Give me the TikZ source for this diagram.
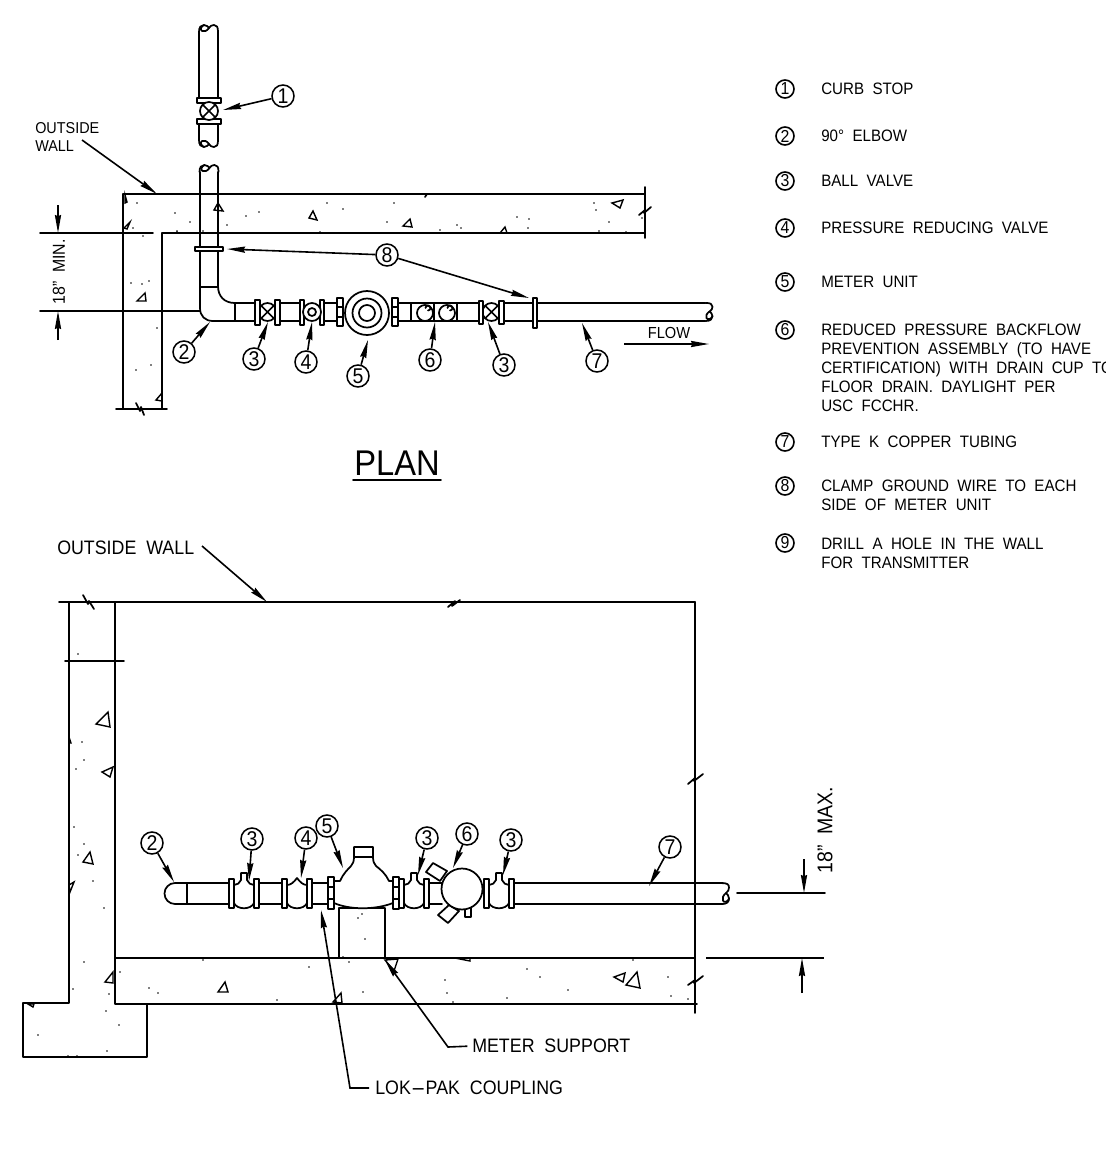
\documentclass[tikz,border=0pt]{standalone}
\usepackage{fontspec}
\setmainfont[WordSpace=2,FakeStretch=0.915]{Liberation Sans}
\usetikzlibrary{arrows.meta,calc}
\tikzset{
  line/.style={line width=1.3pt,black,line cap=round,line join=round},
  heavy/.style={line width=1.7pt,black},
  arr/.style={line width=1.2pt,black,-{Stealth[length=13.5pt,width=4.6pt,inset=1pt]}},
  num/.style={circle,draw,line width=1.15pt,inner sep=0pt,minimum size=16.5pt,font=\fontsize{16}{16}\selectfont},
  key/.style={circle,draw,line width=1.2pt,inner sep=0pt,minimum size=13.5pt,font=\fontsize{13}{13}\selectfont},
  txt/.style={anchor=west,inner sep=0pt,align=left,font=\fontsize{12.4}{14.2}\selectfont},
  lbl/.style={anchor=west,inner sep=0pt,align=left,font=\fontsize{14.6}{14.6}\selectfont},
  flange/.style={line,fill=white},
  agg/.style={line width=1.05pt,black,line join=miter}
}
\newcommand{\callout}[6]{\node[num] (#1) at (#2,#3) {#4};\coordinate (#1t) at (#5,#6);\draw[arr] (#1) -- (#1t);}
\newcommand{\keyrow}[4]{\node[key] (k#1) at (785,#2) {#1};\node[txt] (t#1) at (821,#4) {#3};}
\newcommand{\pipeend}[1]{\begin{scope}[#1]\draw[line] (0,7) .. controls (0,2) and (2,0) .. (5,0) .. controls (8,0) and (9,2) .. (10,3) .. controls (11,1) and (13,0) .. (15,0) .. controls (18,0) and (19,2) .. (19,7);\draw[line] (10,3) .. controls (8,6) and (5,7) .. (3,6) .. controls (1,5) and (2,1) .. (5,0);\end{scope}}
\newcommand{\flg}[4]{\draw[flange] (#1,#3) rectangle (#2,#4);}
\newcommand{\bigflg}[2]{\draw[flange] (#1,877) rectangle (#2,909);\draw[line] (#1,887) -- (#2,887) (#1,899) -- (#2,899);}
\newcommand{\capvalve}[2]{\draw[line,fill=white] (#1,885) .. controls ({#1+3},885) and ({#1+6},883) .. ({#1+7},880) -- ({#1+7},873) -- ({#1+13},873) -- ({#1+13},880) .. controls ({#1+14},883) and ({#1+17},885) .. (#2,885) -- (#2,903) .. controls ({#1+17},910) and ({#1+3},910) .. (#1,903) -- cycle;}
\newcommand{\bumpvalve}[2]{\draw[line,fill=white] (#1,885) .. controls ({#1+4},885) and ({#1+7},882) .. ({#1+10},878) .. controls ({#1+13},882) and ({#1+16},885) .. (#2,885) -- (#2,903) .. controls ({#1+17},910) and ({#1+3},910) .. (#1,903) -- cycle;}
\newcommand{\xvalve}[2]{\draw[line,fill=white] (#1,#2) circle (9);\draw[line] ($(#1,#2)+(-6.3,-6.3)$) -- ($(#1,#2)+(6.3,6.3)$) ($(#1,#2)+(-6.3,6.3)$) -- ($(#1,#2)+(6.3,-6.3)$);}
\newcommand{\checkc}[2]{\draw[line,fill=white] (#1,#2) circle (8);\draw[line] ({#1+3},{#2-2.5}) arc[start angle=90,end angle=-180,radius=2.5];}
\newcommand{\tri}[6]{\draw[agg] (#1,#2) -- (#3,#4) -- (#5,#6) -- cycle;}
\newcommand{\specks}[1]{\foreach \a/\b in {#1} {\fill (\a,\b) circle (0.9);}}
\begin{document}
\begin{tikzpicture}[x=0.75pt,y=-0.75pt]
\useasboundingbox (0,0) rectangle (1106,1153);
% ---- PLAN: walls
\draw[line] (162,409) -- (162,233) -- (645,233);
\draw[line] (123,409) -- (123,194) -- (645,194);
\draw[line] (40,233) -- (153,233);
\draw[line] (645,187) -- (645,238);
\draw[line] (639,215) -- (645,210) -- (644,213) -- (651,207);
\draw[line] (116,409) -- (167,409);
\draw[line] (136,403) -- (140,411) -- (141,407) -- (144,415);
\draw[line] (40,311) -- (200,311);
\coordinate (dimA1) at (58,205);\coordinate (dimA2) at (58,233);
\coordinate (dimB1) at (58,340);\coordinate (dimB2) at (58,311);
\draw[arr] (dimA1) -- (dimA2);
\draw[arr] (dimB1) -- (dimB2);
\node[rotate=90,inner sep=0pt,font=\fontsize{13}{13}\selectfont] (minlbl) at (59,272) {18" MIN.};
\tri{218}{203}{214}{210}{223}{211}
\tri{313}{211}{309}{218}{317}{220}
\tri{623}{200}{612}{203}{620}{208}
\tri{505}{227}{500}{233}{507}{233}
\tri{125}{195}{125}{203}{127}{202}
\tri{130}{222}{124}{228}{127}{229}
\tri{145}{293}{137}{301}{146}{301}
\tri{162}{393}{156}{400}{162}{401}
\tri{410}{219}{403}{226}{412}{227}
\specks{137/203,175/213,190/222,227/225,246/216,259/212,327/203,343/209,394/203,387/222,177/231,203/231,320/232,143/236,133/228,177/232,131/283,142/284,149/281,157/328,151/365,136/370,594/203,596/210,609/222,642/218,599/231,626/232,517/217,529/219,528/228,457/225,461/228,440/230}
\draw[line] (427,194) -- (425,197);
% ---- PLAN: upper pipe
\draw[line] (199,32) -- (199,98) (218,32) -- (218,98);
\draw[line] (199,124) -- (199,140) (218,124) -- (218,140);
\pipeend{shift={(199,25)}}
\pipeend{shift={(199,147)},yscale=-1}
\flg{197}{221}{98}{103}
\flg{197}{221}{119}{124}
\xvalve{209}{111}
\callout{ca}{283}{96}{1}{223}{110}
% ---- PLAN: lower pipe
\draw[line] (200,172) -- (200,308) .. controls (200,316) and (205,321) .. (213,321) -- (255,321);
\draw[line] (218,172) -- (218,286) .. controls (218,296) and (224,303) .. (235,303) -- (255,303);
\pipeend{shift={(199.5,165)}}
\draw[line] (200,287) -- (218,287);
\draw[line] (235,303) -- (235,321);
\draw[flange] (195,247) rectangle (223,251);
\draw[line] (280,303) -- (300,303) (280,321) -- (300,321);
\draw[line] (324,303) -- (337,303) (324,321) -- (337,321);
\draw[line] (398,303) -- (479,303) (398,321) -- (479,321);
\draw[line] (411,303) -- (411,321) (434,303) -- (434,321) (457,303) -- (457,321);
\draw[line] (504,303) -- (705,303) (504,321) -- (705,321);
\xvalve{267.5}{312}
\flg{255}{260}{300}{325}
\flg{275}{280}{300}{325}
\flg{300}{304}{300}{325}
\flg{320}{324}{300}{325}
\draw[line,fill=white] (312,312) circle (9);
\draw[line] (312,312) circle (4);
\flg{337}{343}{298}{326}
\draw[line] (337,307) -- (343,307) (337,317) -- (343,317);
\draw[line,fill=white] (367,313) circle (22);
\draw[line] (367,313) circle (14.5) (367,313) circle (8);
\flg{392}{398}{298}{326}
\draw[line] (392,307) -- (398,307) (392,317) -- (398,317);
\checkc{425}{313}
\checkc{447}{313}
\xvalve{491.5}{312}
\flg{479}{483}{301}{324}
\flg{499}{504}{301}{324}
\flg{533}{537}{298}{328}
\pipeend{shift={(712.5,321)},cm={0,0.95,1,0,(0,0)}}
\callout{cb}{184}{352}{2}{210}{322}
\callout{cc}{254}{359}{3}{268}{322}
\callout{cd}{306}{362}{4}{312}{322}
\callout{ce}{358}{376}{5}{368}{340}
\callout{cf}{430}{360}{6}{435}{322}
\callout{cg}{504}{365}{3}{488}{322}
\callout{ch}{597}{361}{7}{582}{323}
\node[num] (ci) at (387,255) {8};
\coordinate (ci1) at (227,249);\coordinate (ci2) at (529,298);
\draw[arr] (ci) -- (ci1);
\draw[arr] (ci) -- (ci2);
\node[inner sep=0pt,font=\fontsize{12}{12}\selectfont] (flowlbl) at (669,333) {FLOW};
\coordinate (fl1) at (624,344);\coordinate (fl2) at (709,344);
\draw[arr] (fl1) -- (fl2);
\node[anchor=west,inner sep=0pt,align=left,font=\fontsize{11.8}{13.5}\selectfont] (olbl) at (35,137) {OUTSIDE\\WALL};
\coordinate (oa1) at (82,140);\coordinate (oa2) at (157,194);
\draw[arr] (oa1) -- (oa2);
\node[inner sep=0pt,font=\fontsize{26.8}{28}\selectfont] (plan) at (397,463) {PLAN};
\draw[line] (353,480) -- (441,480);
% ---- Key
\keyrow{1}{89}{CURB STOP}{89}
\keyrow{2}{136}{90° ELBOW}{136}
\keyrow{3}{181}{BALL VALVE}{181}
\keyrow{4}{228}{PRESSURE REDUCING VALVE}{228}
\keyrow{5}{282}{METER UNIT}{282}
\keyrow{6}{330}{REDUCED PRESSURE BACKFLOW\\PREVENTION ASSEMBLY (TO HAVE\\CERTIFICATION) WITH DRAIN CUP TO\\FLOOR DRAIN. DAYLIGHT PER\\USC FCCHR.}{368}
\keyrow{7}{442}{TYPE K COPPER TUBING}{442}
\keyrow{8}{486}{CLAMP GROUND WIRE TO EACH\\SIDE OF METER UNIT}{495}
\keyrow{9}{543}{DRILL A HOLE IN THE WALL\\FOR TRANSMITTER}{553}
% ---- ELEVATION: walls
\draw[line] (59,602) -- (695,602);
\draw[line] (69,602) -- (69,1003) -- (23,1003) -- (23,1057) -- (147,1057) -- (147,1004) -- (115,1004) -- (115,602);
\draw[line] (147,1004) -- (697,1004);
\draw[line] (65,661) -- (124,661);
\draw[line] (695,602) -- (695,1013);
\draw[line] (83,595) -- (88,604) -- (89,601) -- (94,609);
\draw[line] (448,607) -- (455,601) -- (452,606) -- (460,600);
\draw[line] (688,784) -- (695,778) -- (694,781) -- (703,774);
\draw[line] (688,985) -- (695,980) -- (694,983) -- (703,976);
\draw[heavy] (115,958) -- (696,958);
\draw[heavy] (706,958) -- (824,958);
\draw[line] (737,893) -- (825,893);
\coordinate (dC1) at (804,859);\coordinate (dC2) at (804,893);
\coordinate (dD1) at (802,993);\coordinate (dD2) at (802,958);
\draw[arr] (dC1) -- (dC2);
\draw[arr] (dD1) -- (dD2);
\node[rotate=90,inner sep=0pt,font=\fontsize{16}{16}\selectfont] (maxlbl) at (825,830) {18" MAX.};
\tri{108}{712}{96}{724}{110}{727}
\tri{113}{767}{102}{772}{110}{777}
\tri{90}{852}{83}{862}{93}{864}
\tri{74}{882}{69}{885}{70}{892}
\tri{113}{972}{105}{982}{113}{983}
\tri{69}{737}{69}{743}{71}{743}
\tri{225}{982}{218}{992}{228}{992}
\tri{341}{993}{333}{1002}{342}{1003}
\tri{455}{958}{470}{961}{470}{958}
\tri{625}{973}{614}{977}{623}{982}
\tri{637}{972}{626}{985}{640}{988}
\tri{28}{1004}{33}{1007}{34}{1004}
\specks{78/654,82/742,84/760,76/769,74/827,84/844,78/855,93/881,104/908,84/962,73/989,109/994,106/1011,119/1025,38/1035,107/1051,68/1056,77/1056,120/972,149/988,158/993,203/960,309/967,362/914,358/918,365/939,343/957,349/962,363/992,445/980,447/993,527/969,540/977,568/990,507/998,453/1002,607/958,633/960,668/977,671/996,688/999,277/1000}
% ---- ELEVATION: pipe
\draw[line] (187,883) -- (175,883) arc[start angle=-90,end angle=-270,radius=10.5] -- (187,904);
\draw[line] (187,883) -- (187,904);
\draw[line] (187,883) -- (229,883) (187,904) -- (229,904);
\draw[line] (259,883) -- (282,883) (259,904) -- (282,904);
\draw[line] (312,883) -- (328,883) (312,904) -- (328,904);
\draw[line] (429,883) -- (442,883) (429,904) -- (442,904);
\draw[line] (514,883) -- (723,883) (514,904) -- (723,904);
\pipeend{shift={(729,904)},cm={0,1.1,1,0,(0,0)}}
% meter support
\draw[line] (339,958) -- (339,908) -- (385,908) -- (385,958);
% valves
\capvalve{234}{254}
\flg{229}{234}{879}{908}
\flg{254}{259}{879}{908}
\bumpvalve{287}{307}
\flg{282}{287}{879}{908}
\flg{307}{312}{879}{908}
\capvalve{404}{424}
\capvalve{489}{509}
% meter body
\draw[line,fill=white] (334,881) -- (340,881) .. controls (343,874) and (348,869) .. (351,866) .. controls (353,864) and (354,861) .. (354,857) -- (354,847) -- (373,847) -- (373,857) .. controls (373,861) and (374,864) .. (376,866) .. controls (380,869) and (386,874) .. (389,881) -- (393,881) -- (393,903) .. controls (375,910) and (350,910) .. (334,903) -- cycle;
\draw[line] (354,857) -- (373,857);
\bigflg{328}{334}
\bigflg{393}{399}
\flg{399}{404}{879}{908}
\flg{424}{429}{879}{908}
\flg{484}{489}{879}{908}
\flg{509}{514}{879}{908}
% backflow
\draw[flange] (426,872) -- (433,863) -- (447,871) -- (440,881) -- cycle;
\draw[flange] (438,915) -- (448,923) -- (459,911) -- (449,905) -- cycle;
\draw[flange] (465,905) rectangle (471,917);
\draw[line,fill=white] (462,889) circle (20.5);
% callouts
\callout{ea}{152}{843}{2}{174}{882}
\callout{eb}{252}{839}{3}{249}{881}
\callout{ec}{306}{838}{4}{301}{878}
\callout{ed}{327}{826}{5}{343}{868}
\callout{ee}{427}{838}{3}{418}{875}
\callout{ef}{467}{834}{6}{453}{868}
\callout{eg}{511}{840}{3}{503}{875}
\callout{eh}{670}{847}{7}{649}{886}
% leaders
\node[lbl] (owl) at (57,548) {OUTSIDE WALL};
\coordinate (ow1) at (202,546);\coordinate (ow2) at (267,602);
\draw[arr] (ow1) -- (ow2);
\node[lbl] (msl) at (472,1046) {METER SUPPORT};
\coordinate (ms1) at (448,1047);\coordinate (ms2) at (385,960);
\draw[arr,shorten <=3.5pt] (msl.west) -- (ms1) -- (ms2);
\tri{385}{960}{398}{959}{394}{971}
\node[lbl] (lpl) at (375,1088) {LOK\scalebox{2.5}[1]{-}PAK COUPLING};
\coordinate (lp1) at (350,1088);\coordinate (lp2) at (321,910);
\draw[arr,shorten <=4.5pt] (lpl.west) -- (lp1) -- (lp2);
\end{tikzpicture}
\end{document}
